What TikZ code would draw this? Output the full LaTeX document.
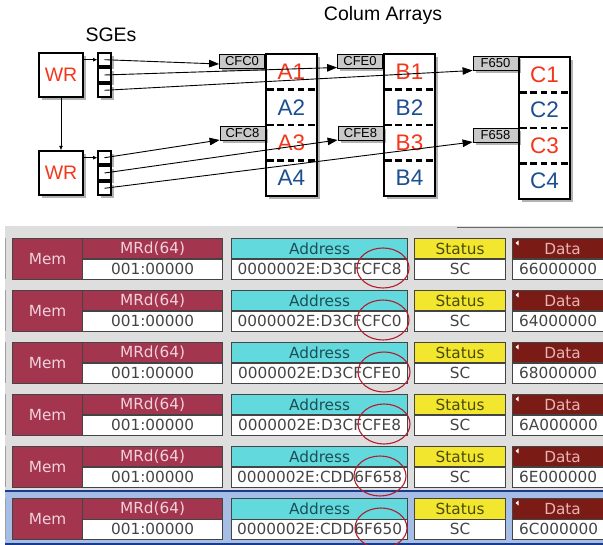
\documentclass[tikz,border=0pt]{standalone}
\usepackage{fontspec}
\setmainfont{Liberation Sans}
\newfontfamily\dvs{DejaVu Sans}
\usetikzlibrary{shadows,arrows.meta,shapes.geometric}
\definecolor{wrred}{HTML}{F4361C}
\definecolor{abblue}{HTML}{1C4F91}
\definecolor{lblgray}{HTML}{C9C9C9}
\definecolor{bgc}{HTML}{DEDEDE}
\definecolor{memc}{HTML}{A3354F}
\definecolor{memtxt}{HTML}{F2D2DA}
\definecolor{addrc}{HTML}{62DADD}
\definecolor{addrtxt}{HTML}{1E4D55}
\definecolor{statc}{HTML}{F2E62E}
\definecolor{stattxt}{HTML}{4A4A0A}
\definecolor{datac}{HTML}{7A1B16}
\definecolor{datatxt}{HTML}{E8B4B4}
\definecolor{valtxt}{HTML}{444444}
\definecolor{bordc}{HTML}{444444}
\definecolor{hlblue}{HTML}{A6BEE6}
\definecolor{hlnavy}{HTML}{1A3A8C}
\definecolor{ellred}{HTML}{B01E2E}
\begin{document}
\begin{tikzpicture}[x=1pt,y=-1pt,
  shad/.style={drop shadow={shadow xshift=2.5pt,shadow yshift=-3pt,fill=black,opacity=0.3}},
  wrbox/.style={draw,line width=2.3pt,fill=white,minimum width=44pt,minimum height=44pt,inner sep=0pt,text=wrred,font=\fontsize{19.5}{20}\selectfont,shad},
  sgecell/.style={draw,line width=2pt,fill=white,minimum width=13pt,minimum height=13.3pt,inner sep=0pt,shad},
  lbl/.style={draw,line width=0.8pt,fill=lblgray,minimum width=45pt,minimum height=14pt,inner sep=0pt,font=\fontsize{13}{13}\selectfont,shad},
  colbox/.style={draw,line width=2.3pt,fill=white,minimum width=51pt,minimum height=142pt,inner sep=0pt,shad},
  celltxt/.style={font=\fontsize{22.5}{22.5}\selectfont,inner sep=0pt},
  redtxt/.style={celltxt,text=wrred},
  bluetxt/.style={celltxt,text=abblue},
  dsh/.style={line width=2.2pt,dash pattern=on 6.5pt off 3.8pt},
  conn/.style={line width=0.9pt,-{Triangle[length=10pt,width=7.5pt]}},
  tiparrow/.style={line width=0.8pt,-{Triangle[length=4pt,width=3.5pt]}},
  tcell/.style={draw=bordc,line width=1.2pt,inner sep=0pt,anchor=north west,font=\dvs\fontsize{15.3}{16}\selectfont},
  ttl/.style={font=\fontsize{19.5}{20}\selectfont,inner sep=0pt},
]
\useasboundingbox (0,0) rectangle (603,545);

% ---------- top diagram ----------
\node[ttl] (sgelbl) at (111,35) {SGEs};
\node[ttl] (collbl) at (383,15) {Colum Arrays};

\node[wrbox] (wr1) at (61,75) {WR};
\node[wrbox] (wr2) at (61,173) {WR};

\node[sgecell] (s1a) at (104.5,59.7) {};
\node[sgecell] (s1b) at (104.5,75) {};
\node[sgecell] (s1c) at (104.5,90.3) {};
\node[sgecell] (s2a) at (104.5,157.7) {};
\node[sgecell] (s2b) at (104.5,173) {};
\node[sgecell] (s2c) at (104.5,188.3) {};

\draw[tiparrow] (wr1.east |- s1a.west) -- (s1a.west);
\draw[tiparrow] (wr2.east |- s2a.west) -- (s2a.west);
\draw[tiparrow] (wr1.south) -- (wr2.north);

% column arrays
\node[colbox] (colA) at (291.5,125) {};
\node[colbox] (colB) at (409.5,125) {};
\node[colbox] (colC) at (544.5,128) {};

\foreach \L/\R in {267/316, 385/434}{
  \foreach \yy in {89.5,125,160.5}{
    \draw[dsh] (\L,\yy) -- (\R,\yy);
  }
}
\foreach \yy in {92.5,128,163.5}{
  \draw[dsh] (520,\yy) -- (569,\yy);
}

\node[redtxt]  (a1) at (291.5,71.75) {A1};
\node[bluetxt] (a2) at (291.5,107.25) {A2};
\node[redtxt]  (a3) at (291.5,142.75) {A3};
\node[bluetxt] (a4) at (291.5,178.25) {A4};
\node[redtxt]  (b1) at (409.5,71.75) {B1};
\node[bluetxt] (b2) at (409.5,107.25) {B2};
\node[redtxt]  (b3) at (409.5,142.75) {B3};
\node[bluetxt] (b4) at (409.5,178.25) {B4};
\node[redtxt]  (c1) at (544.5,74.75) {C1};
\node[bluetxt] (c2) at (544.5,110.25) {C2};
\node[redtxt]  (c3) at (544.5,145.75) {C3};
\node[bluetxt] (c4) at (544.5,181.25) {C4};

% labels
\node[lbl] (cfc0) at (242,61) {CFC0};
\node[lbl] (cfc8) at (242.5,133) {CFC8};
\node[lbl] (cfe0) at (360,61) {CFE0};
\node[lbl] (cfe8) at (360.5,133) {CFE8};
\node[lbl] (f650) at (495.5,63.5) {F650};
\node[lbl] (f658) at (495.5,135) {F658};

% connectors
\draw[conn] (s1a.center) -- ([yshift=-3pt]cfc0.west);
\draw[conn] (s1b.center) -- ([yshift=-6.5pt]cfe0.west);
\draw[conn] (s1c.center) -- ([yshift=-7pt]f650.west);
\draw[conn] (s2a.center) -- ([yshift=-7pt]cfc8.west);
\draw[conn] (s2b.center) -- ([yshift=-7pt]cfe8.west);
\draw[conn] (s2c.center) -- ([yshift=-7pt]f658.west);

% ---------- bottom table ----------
\fill[bgc] (5,226) rectangle (603,545);
\draw[bordc!80,line width=0.8pt] (457,227) -- (603,227);
\fill[hlblue] (5,490) rectangle (603,545);
\draw[hlnavy,line width=1.8pt] (5,491) -- (603,491);
\draw[hlnavy,line width=1.8pt] (5,544) -- (603,544);

\foreach \i/\addr/\dat/\ex in {1/D3CFCFC8/66000000/383, 2/D3CFCFC0/64000000/383, 3/D3CFCFE0/68000000/384, 4/D3CFCFE8/6A000000/384, 5/CDD6F658/6E000000/380, 6/CDD6F650/6C000000/381}{
  \pgfmathsetmacro{\y}{238+52*(\i-1)}
  \draw[gray!75,line width=0.6pt] (5.5,\y) -- (5.5,{\y+41});
  \node[tcell,fill=memc,text=memtxt,minimum width=70pt,minimum height=41pt] (mem\i) at (12,\y) {Mem};
  \node[tcell,fill=memc,text=memtxt,minimum width=140pt,minimum height=20.5pt] (mrdh\i) at (82,\y) {MRd(64)};
  \node[tcell,fill=white,text=valtxt,minimum width=140pt,minimum height=20.5pt] (mrdv\i) at (82,{\y+20.5}) {001:00000};
  \node[tcell,fill=addrc,text=addrtxt,minimum width=176pt,minimum height=20.5pt] (addrh\i) at (231,\y) {Address};
  \node[tcell,fill=white,text=valtxt,minimum width=176pt,minimum height=20.5pt] (addrv\i) at (231,{\y+20.5}) {0000002E:\addr};
  \node[tcell,fill=statc,text=stattxt,minimum width=91pt,minimum height=20.5pt] (stath\i) at (414,\y) {Status};
  \node[tcell,fill=white,text=valtxt,minimum width=91pt,minimum height=20.5pt] (statv\i) at (414,{\y+20.5}) {SC};
  \node[tcell,fill=datac,text=datatxt,minimum width=100pt,minimum height=20.5pt] (datah\i) at (512,\y) {Data};
  \node[tcell,fill=white,minimum width=100pt,minimum height=20.5pt] (datav\i) at (512,{\y+20.5}) {};
  \node[anchor=west,inner sep=0pt,text=valtxt,font=\dvs\fontsize{15.3}{16}\selectfont] (datat\i) at (519,{\y+30.75}) {\dat};
  \fill[white] (515.5,{\y+5}) -- (518.5,{\y+2.5}) -- (518.5,{\y+7.5}) -- cycle;
  \node[draw=ellred,line width=1.1pt,ellipse,minimum width=52pt,minimum height=40pt,inner sep=0pt] (ell\i) at (\ex,{\y+30}) {};
}
\end{tikzpicture}
\end{document}
